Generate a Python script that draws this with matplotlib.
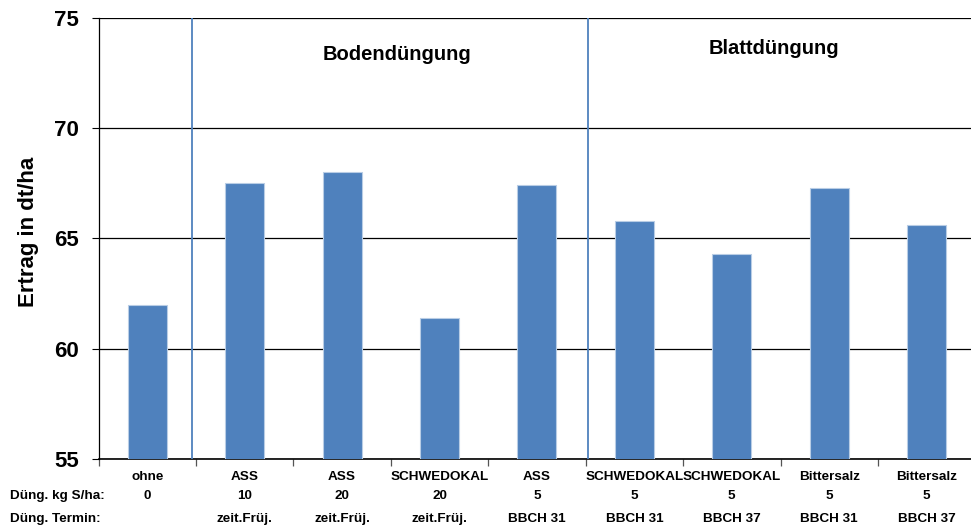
import matplotlib.pyplot as plt
import matplotlib.transforms as mtransforms
import numpy as np

plt.rcParams['font.family'] = ['Liberation Sans', 'DejaVu Sans']

# Ertrag je Variante
produkte = ['ohne', 'ASS', 'ASS', 'SCHWEDOKAL', 'ASS',
            'SCHWEDOKAL', 'SCHWEDOKAL', 'Bittersalz', 'Bittersalz']
mengen = ['0', '10', '20', '20', '5', '5', '5', '5', '5']
termine = ['', 'zeit.Früj.', 'zeit.Früj.', 'zeit.Früj.', 'BBCH 31',
           'BBCH 31', 'BBCH 37', 'BBCH 31', 'BBCH 37']
ertrag = [62.0, 67.5, 68.0, 61.4, 67.4, 65.8, 64.3, 67.3, 65.6]

gruppen = ['Bodendüngung', 'Blattdüngung']
gruppen_x = [2.56, 6.435]
gruppen_y = [73.36, 73.62]
trenner = [0.46, 4.52]

fig = plt.figure(figsize=(9.71, 5.28), dpi=100)
ax = fig.add_axes([0.1015, 0.131, 0.903, 0.835])

x = np.arange(len(ertrag))
ax.bar(x, ertrag, width=0.4, color='#4F81BD', edgecolor='#B9CDE5',
       linewidth=0.8, zorder=3)

ax.set_xlim(-0.5, len(ertrag) - 0.5)
ax.set_ylim(55, 75)
ax.set_yticks([55, 60, 65, 70, 75])
ax.yaxis.grid(True, color='black', linewidth=0.9, zorder=0)
ax.tick_params(axis='y', labelsize=16, length=5, width=0.8, pad=9)
for lab in ax.get_yticklabels():
    lab.set_fontweight('bold')
ax.set_ylabel('Ertrag in dt/ha', fontsize=16, fontweight='bold')
ax.yaxis.set_label_coords(-0.068, 0.515)

for side in ['top', 'right']:
    ax.spines[side].set_visible(False)
ax.spines['left'].set_linewidth(0.9)
ax.spines['bottom'].set_linewidth(1.2)

# Tickmarks an den Kategoriegrenzen, Beschriftung in der Mitte
ax.set_xticks(x)
ax.set_xticklabels(produkte, fontsize=9.7, fontweight='bold')
ax.tick_params(axis='x', which='major', length=0, pad=9)
ax.set_xticks(np.arange(len(ertrag) + 1) - 0.5, minor=True)
ax.tick_params(axis='x', which='minor', length=5, width=0.9, color='#555555')

trans = mtransforms.blended_transform_factory(ax.transData, fig.transFigure)
for xi, m, t in zip(x, mengen, termine):
    ax.text(xi, 1 - 496 / 528, m, transform=trans, ha='center', va='center',
            fontsize=9.7, fontweight='bold')
    ax.text(xi, 1 - 519 / 528, t, transform=trans, ha='center', va='center',
            fontsize=9.7, fontweight='bold')
fig.text(10 / 971, 1 - 496 / 528, 'Düng. kg S/ha:', ha='left', va='center',
         fontsize=9.7, fontweight='bold')
fig.text(10 / 971, 1 - 519 / 528, 'Düng. Termin:', ha='left', va='center',
         fontsize=9.7, fontweight='bold')

for tx in trenner:
    ax.axvline(tx, color='#4F81BD', linewidth=1.3, zorder=4)
for gx, gy, g in zip(gruppen_x, gruppen_y, gruppen):
    ax.text(gx, gy, g, ha='center', va='center', fontsize=14.5,
            fontweight='bold')

fig.savefig('out.png', dpi=100)
